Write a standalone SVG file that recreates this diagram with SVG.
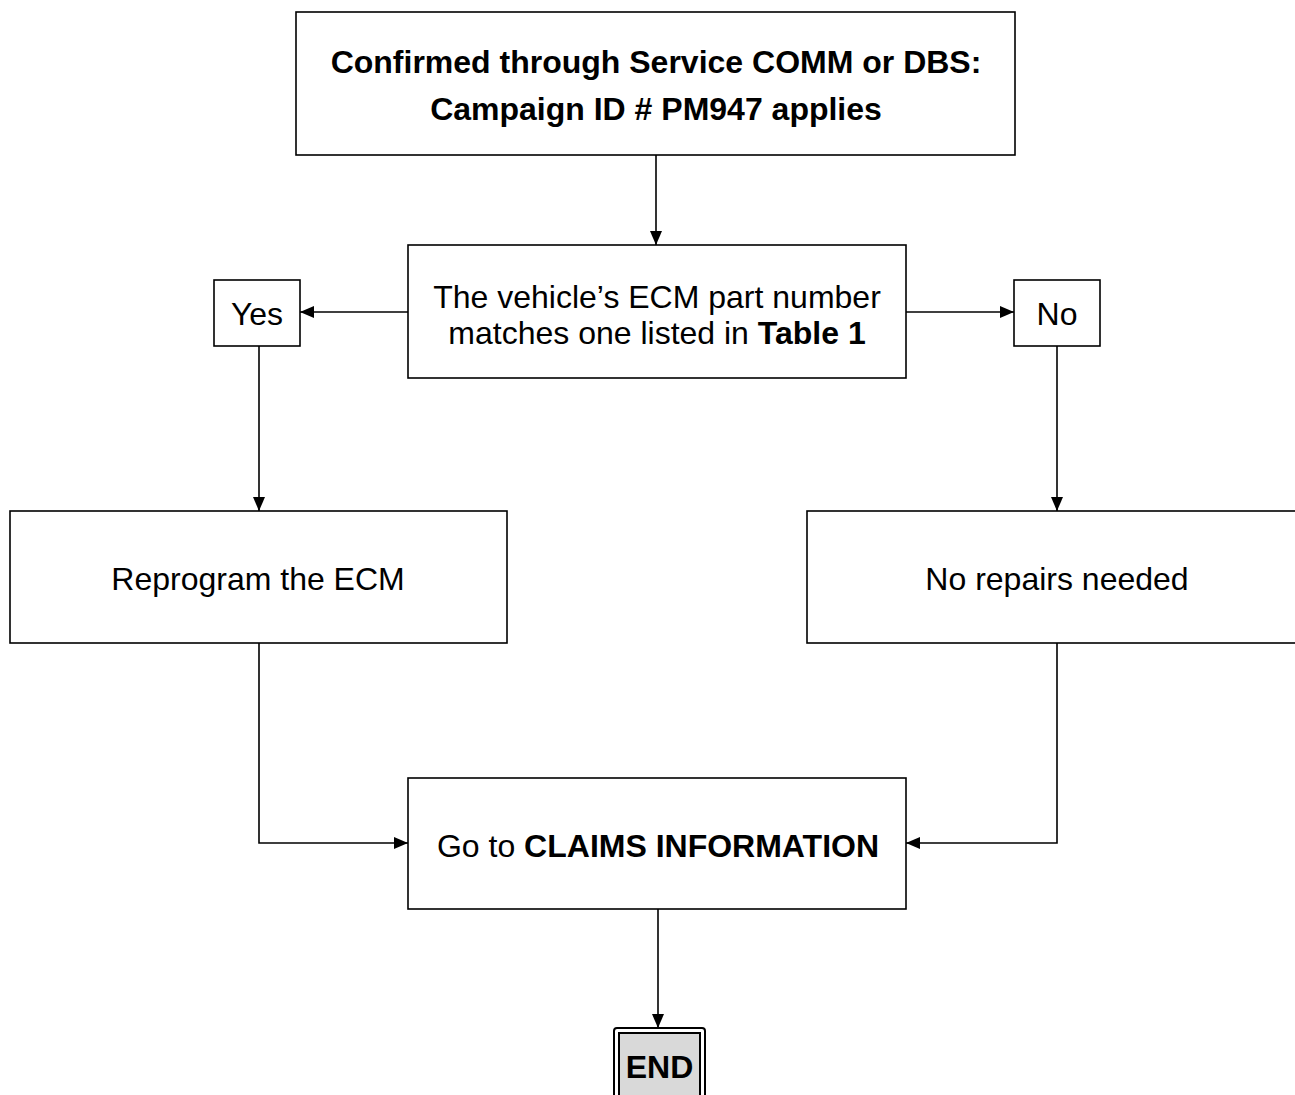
<svg xmlns="http://www.w3.org/2000/svg" width="1295" height="1095" viewBox="0 0 1295 1095">
<style>
.box{fill:#fff;stroke:#000;stroke-width:1.6}
.t{font-family:"Liberation Sans",Arial,sans-serif;font-size:32px;fill:#000;text-anchor:middle}
.b{font-weight:bold}
.c{fill:none;stroke:#000;stroke-width:1.6}
</style>
<defs>
<marker id="ah" viewBox="0 0 14 12" refX="14" refY="6" markerWidth="14" markerHeight="12" markerUnits="userSpaceOnUse" orient="auto">
<path d="M0,0 L14,6 L0,12 Z" fill="#000"/>
</marker>
</defs>
<rect width="1295" height="1095" fill="#fff"/>
<g id="connectors">
<path class="c" d="M656,155 V245" marker-end="url(#ah)"/>
<path class="c" d="M408,312 H300" marker-end="url(#ah)"/>
<path class="c" d="M906,312 H1014" marker-end="url(#ah)"/>
<path class="c" d="M259,346 V511" marker-end="url(#ah)"/>
<path class="c" d="M1057,346 V511" marker-end="url(#ah)"/>
<path class="c" d="M259,643 V843 H408" marker-end="url(#ah)"/>
<path class="c" d="M1057,643 V843 H906" marker-end="url(#ah)"/>
<path class="c" d="M658,909 V1028" marker-end="url(#ah)"/>
</g>
<g id="start">
<rect class="box" x="296" y="12" width="719" height="143"/>
<text class="t b" x="656" y="73">Confirmed through Service COMM or DBS:</text>
<text class="t b" x="656" y="120">Campaign ID # PM947 applies</text>
</g>
<g id="decision">
<rect class="box" x="408" y="245" width="498" height="133"/>
<text class="t" x="657" y="308">The vehicle’s ECM part number</text>
<text class="t" x="657" y="344">matches one listed in <tspan class="b">Table 1</tspan></text>
</g>
<g id="yes">
<rect class="box" x="214" y="280" width="86" height="66"/>
<text class="t" x="257" y="325">Yes</text>
</g>
<g id="no">
<rect class="box" x="1014" y="280" width="86" height="66"/>
<text class="t" x="1057" y="325">No</text>
</g>
<g id="reprogram">
<rect class="box" x="10" y="511" width="497" height="132"/>
<text class="t" x="258" y="590">Reprogram the ECM</text>
</g>
<g id="norepairs">
<rect class="box" x="807" y="511" width="500" height="132"/>
<text class="t" x="1057" y="590">No repairs needed</text>
</g>
<g id="claims">
<rect class="box" x="408" y="778" width="498" height="131"/>
<text class="t" x="658" y="857">Go to <tspan class="b">CLAIMS INFORMATION</tspan></text>
</g>
<g id="end">
<rect x="614" y="1028" width="91" height="80" rx="3" fill="#fff" stroke="#000" stroke-width="2"/>
<rect x="619" y="1033" width="81" height="75" fill="#d9d9d9" stroke="#000" stroke-width="2"/>
<text class="t b" x="659.5" y="1078">END</text>
</g>
</svg>
